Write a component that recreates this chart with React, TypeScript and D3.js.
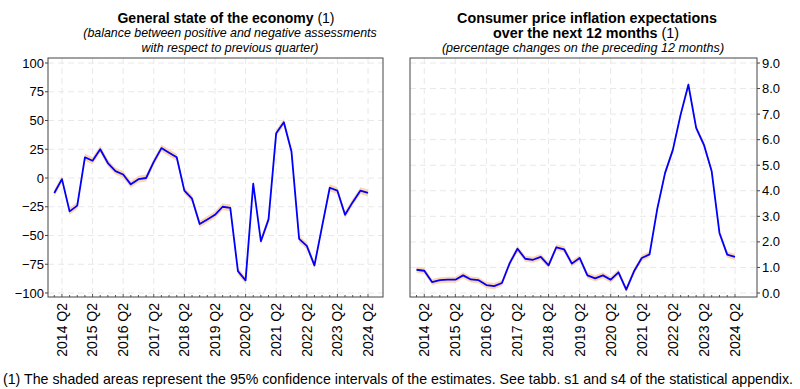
import React from 'react';
import * as d3 from 'd3';

// quarters 2014 Q1 .. 2024 Q2
const quarters = d3.range(42).map(i => `${2014 + Math.floor(i / 4)} Q${(i % 4) + 1}`);
const yearLabels = d3.range(2014, 2025).map(y => `${y} Q2`);

const economy = [
  -13, -1, -29, -24, 18, 15, 25, 13, 6, 3, -5.5, -1, 0, 14, 26, 22, 18, -11, -18, -40, -36,
  -32, -25, -26, -81, -89, -5, -55, -36, 39, 48.5, 23, -53, -59, -76, -42, -8.5, -11, -32,
  -21, -11, -13,
];
const inflation = [
  0.91, 0.87, 0.43, 0.5, 0.52, 0.52, 0.69, 0.53, 0.5, 0.31, 0.27, 0.39, 1.17, 1.73, 1.34,
  1.3, 1.41, 1.08, 1.79, 1.71, 1.15, 1.37, 0.69, 0.57, 0.69, 0.52, 0.81, 0.13, 0.85, 1.37,
  1.51, 3.3, 4.7, 5.6, 6.98, 8.15, 6.46, 5.8, 4.76, 2.35, 1.5, 1.41,
];
// half-width of the 95% confidence band
const economyCI = 3;
const inflationCI = 0.12;

const economyTicks = [100, 75, 50, 25, 0, -25, -50, -75, -100];
const inflationTicks = [0, 1, 2, 3, 4, 5, 6, 7, 8, 9];

const FONT = '"Liberation Sans", Arial, sans-serif';
const BLUE = '#0000ff';
const BAND = '#fdd5ae';
const GRID = '#e8e8e8';

interface PanelProps {
  values: number[];
  ci: number;
  box: { x0: number; x1: number; y0: number; y1: number };
  xr: [number, number];
  ydom: [number, number];
  ticks: number[];
  fmt: (v: number) => string;
  axisRight: boolean;
}

const Panel: React.FC<PanelProps> = ({ values, ci, box, xr, ydom, ticks, fmt, axisRight }) => {
  const x = d3.scaleLinear().domain([0, 41]).range(xr);
  const y = d3.scaleLinear().domain(ydom).range([293, 63]);

  const line = d3.line<number>().x((_, i) => x(i)).y(d => y(d));
  const area = d3.area<number>().x((_, i) => x(i)).y0(d => y(d - ci)).y1(d => y(d + ci));
  const yearIdx = yearLabels.map(l => quarters.indexOf(l));

  return (
    <g>
      {/* grid */}
      {ticks.map(t => (
        <line key={'h' + t} x1={box.x0} x2={box.x1} y1={y(t)} y2={y(t)} stroke={GRID} strokeDasharray="6,4" />
      ))}
      {yearIdx.map(i => (
        <line key={'v' + i} x1={x(i)} x2={x(i)} y1={box.y0} y2={box.y1} stroke={GRID} strokeDasharray="6,4" />
      ))}
      <path d={area(values) || ''} fill={BAND} />
      <path d={line(values) || ''} fill="none" stroke={BLUE} strokeWidth={1.8} strokeLinejoin="round" />
      {/* quarter ticks */}
      {quarters.map((q, i) => (
        <line key={q} x1={x(i)} x2={x(i)} y1={box.y1} y2={box.y1 - (yearIdx.includes(i) ? 3 : 2)} stroke="#555" />
      ))}
      <rect x={box.x0} y={box.y0} width={box.x1 - box.x0} height={box.y1 - box.y0} fill="none" stroke="#444" />
      {/* y axis */}
      {ticks.map(t => (
        <g key={'t' + t}>
          <line
            x1={axisRight ? box.x1 : box.x0}
            x2={axisRight ? box.x1 + 3 : box.x0 - 3}
            y1={y(t)}
            y2={y(t)}
            stroke="#444"
          />
          <text
            x={axisRight ? box.x1 + 5 : box.x0 - 4}
            y={y(t)}
            dy="0.35em"
            textAnchor={axisRight ? 'start' : 'end'}
            fontSize={13}
          >
            {fmt(t)}
          </text>
        </g>
      ))}
      {/* x labels */}
      {yearLabels.map((l, k) => (
        <text
          key={l}
          transform={`translate(${x(yearIdx[k])},${box.y1 + 6}) rotate(-90)`}
          textAnchor="end"
          dy="0.35em"
          fontSize={14}
        >
          {l}
        </text>
      ))}
    </g>
  );
};

const App: React.FC = () => {
  return (
    <svg
      width={800}
      height={389}
      style={{ position: 'absolute', left: 0, top: 0, background: '#fff' }}
      fontFamily={FONT}
      fill="#000"
    >
      <text x={226} y={23} textAnchor="middle" fontSize={14}>
        <tspan fontWeight="bold">General state of the economy</tspan>
        <tspan> (1)</tspan>
      </text>
      <text x={230} y={37} textAnchor="middle" fontSize={12.4} fontStyle="italic">
        (balance between positive and negative assessments
      </text>
      <text x={230} y={52} textAnchor="middle" fontSize={12.4} fontStyle="italic">
        with respect to previous quarter)
      </text>

      <text x={587} y={23} textAnchor="middle" fontSize={14.3} fontWeight="bold">
        Consumer price inflation expectations
      </text>
      <text x={586} y={37.5} textAnchor="middle" fontSize={14.3}>
        <tspan fontWeight="bold">over the next 12 months</tspan>
        <tspan> (1)</tspan>
      </text>
      <text x={583} y={52} textAnchor="middle" fontSize={12.6} fontStyle="italic">
        (percentage changes on the preceding 12 months)
      </text>

      <Panel
        values={economy}
        ci={economyCI}
        box={{ x0: 48, x1: 383, y0: 58, y1: 297 }}
        xr={[54.3, 368]}
        ydom={[-100, 100]}
        ticks={economyTicks}
        fmt={d3.format('d')}
        axisRight={false}
      />
      <Panel
        values={inflation}
        ci={inflationCI}
        box={{ x0: 410, x1: 757, y0: 58, y1: 297 }}
        xr={[416.5, 735]}
        ydom={[0, 9]}
        ticks={inflationTicks}
        fmt={d3.format('.1f')}
        axisRight={true}
      />

      <text x={3} y={384} fontSize={14.2}>
        (1) The shaded areas represent the 95% confidence intervals of the estimates. See tabb. s1 and s4 of the statistical appendix.
      </text>
    </svg>
  );
};

export default App;
